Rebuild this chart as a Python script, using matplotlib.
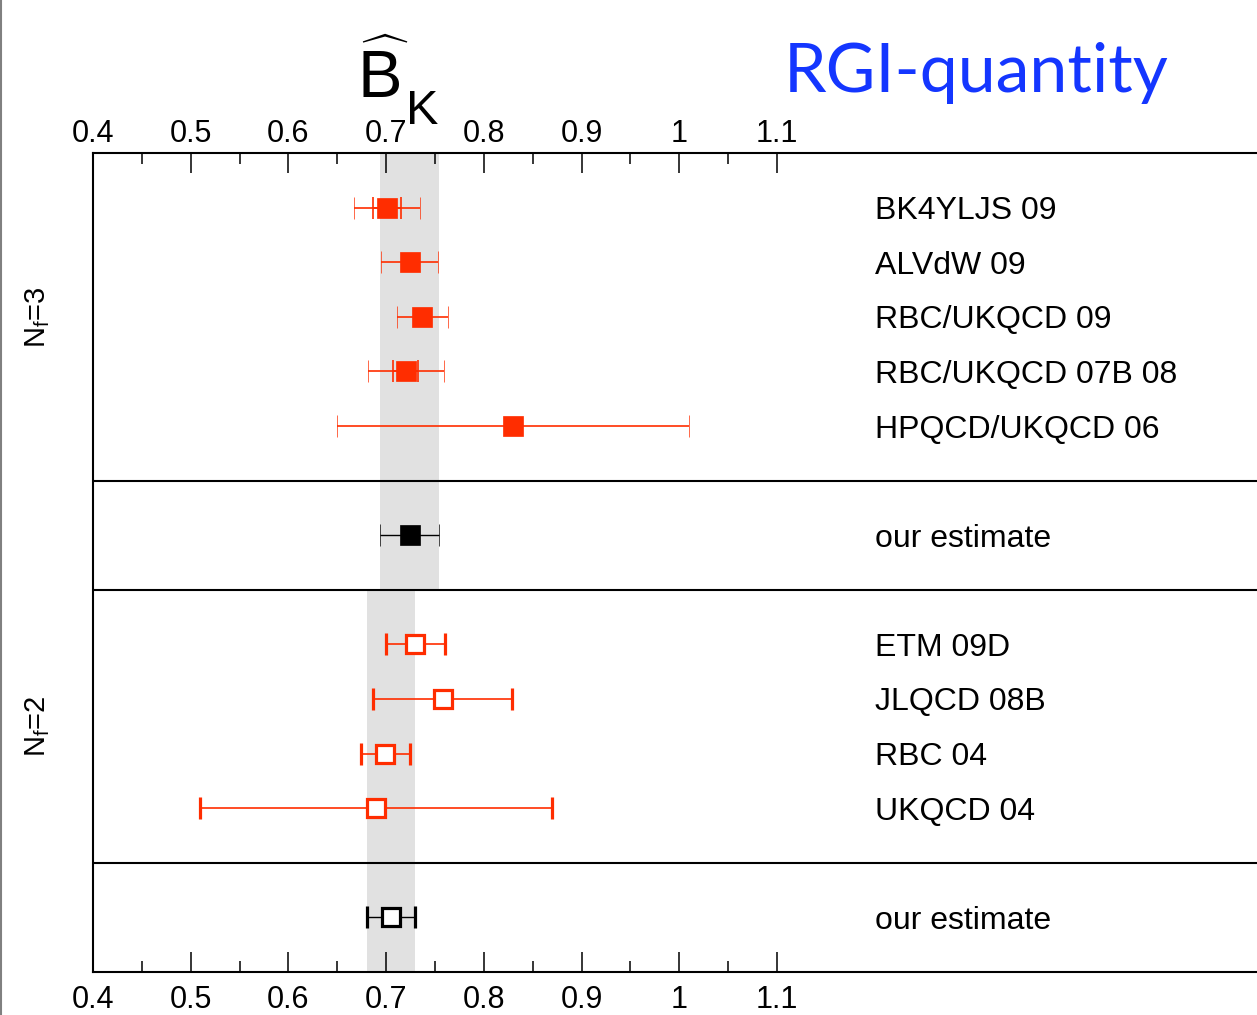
import numpy as np
import matplotlib
matplotlib.use("Agg")
from matplotlib import pyplot as plt
from matplotlib.transforms import blended_transform_factory, offset_copy
from matplotlib.lines import Line2D

plt.rcParams['font.family'] = ['Liberation Sans', 'DejaVu Sans']
plt.rcParams['mathtext.fontset'] = 'custom'
plt.rcParams['mathtext.rm'] = 'Liberation Sans'
plt.rcParams['mathtext.it'] = 'Liberation Sans'

RED = '#ff2d00'

# Nf=3 results
nf3_names = ['BK4YLJS 09', 'ALVdW 09', 'RBC/UKQCD 09', 'RBC/UKQCD 07B 08', 'HPQCD/UKQCD 06']
nf3_val = [0.701, 0.724, 0.737, 0.720, 0.830]
nf3_err = [0.034, 0.029, 0.026, 0.039, 0.180]
nf3_stat = [0.014, None, None, 0.013, None]
nf3_est, nf3_est_err = 0.724, 0.030

# Nf=2 results
nf2_names = ['ETM 09D', 'JLQCD 08B', 'RBC 04', 'UKQCD 04']
nf2_val = [0.730, 0.758, 0.699, 0.690]
nf2_err = [0.030, 0.071, 0.025, 0.180]
nf2_est, nf2_est_err = 0.705, 0.025

fig = plt.figure(figsize=(12.57, 10.15), dpi=100)
ax = fig.add_axes([93/1257, 1 - 972/1015, 1164/1257, 819/1015])
ax.set_xlim(0.4, 0.4 + 1164/977)
ax.set_ylim(15, 0)

# row layout
y3 = np.arange(1, len(nf3_names) + 1)
sep1 = len(nf3_names) + 1
y3e = sep1 + 1
sep2 = y3e + 1
y2 = np.arange(sep2 + 1, sep2 + 1 + len(nf2_names))
sep3 = y2[-1] + 1
y2e = sep3 + 1

# bands
ax.fill_betweenx([0, sep2], nf3_est - nf3_est_err, nf3_est + nf3_est_err,
                 color='#e1e1e1', lw=0, zorder=0)
ax.fill_betweenx([sep2, 15], nf2_est - nf2_est_err, nf2_est + nf2_est_err,
                 color='#e1e1e1', lw=0, zorder=0)

for s in [sep1, sep2, sep3]:
    ax.axhline(s, color='black', lw=1.5, zorder=1)

cap = dict(elinewidth=1.2, capsize=7.9, capthick=1.2)
lab = dict(fontsize=23, va='center_baseline', ha='left')

for y, v, e, st, name in zip(y3, nf3_val, nf3_err, nf3_stat, nf3_names):
    ax.errorbar(v, y, xerr=e, color=RED, marker='s', ms=15, mew=0.5, mec=RED,
                ls='none', zorder=3, **cap)
    if st is not None:
        ax.errorbar(v, y, xerr=st, color=RED, fmt='none', zorder=3, **cap)
    ax.text(1.2, y, name, **lab)

ax.errorbar(nf3_est, y3e, xerr=nf3_est_err, color='black', marker='s', ms=15, mew=0.5,
            mec='black', ls='none', zorder=3, elinewidth=1.0, capsize=7.9, capthick=1.0)
ax.text(1.2, y3e, 'our estimate', **lab)

for y, v, e, name in zip(y2, nf2_val, nf2_err, nf2_names):
    ax.errorbar(v, y, xerr=e, color=RED, marker='s', ms=13.5, mew=2.3, mfc='white',
                mec=RED, ls='none', zorder=3, **cap)
    ax.text(1.2, y, name, **lab)

ax.errorbar(nf2_est, y2e, xerr=nf2_est_err, color='black', marker='s', ms=13.5, mew=2.3,
            mfc='white', mec='black', elinewidth=1.0, capsize=7.9, capthick=1.0,
            ls='none', zorder=3)
ax.text(1.2, y2e, 'our estimate', **lab)

# axes styling
ax.set_xticks(np.round(np.arange(0.4, 1.11, 0.1), 2))
ax.set_xticklabels(['0.4', '0.5', '0.6', '0.7', '0.8', '0.9', '1', '1.1'])
ax.set_xticks(np.round(np.arange(0.45, 1.06, 0.1), 2), minor=True)
ax.set_yticks([])
ax.tick_params(axis='x', which='both', direction='in', top=True, bottom=True,
               labeltop=True, labelbottom=True, labelsize=22, pad=9, width=1.1)
ax.tick_params(axis='x', which='major', length=14.5)
ax.tick_params(axis='x', which='minor', length=8)
for t in ax.xaxis.get_major_ticks():
    t.label2.set_transform(offset_copy(t.label2.get_transform(), fig=fig, y=-6, units='points'))
ax.spines['right'].set_visible(False)
for sp in ['top', 'bottom', 'left']:
    ax.spines[sp].set_linewidth(1.5)

# Nf labels
tr = blended_transform_factory(fig.transFigure, ax.transData)
ax.text(38/1257, y3.mean(), r'$\mathrm{N_f}$=3', rotation=90, fontsize=21,
        ha='center', va='center', transform=tr)
ax.text(38/1257, y2.mean(), r'$\mathrm{N_f}$=2', rotation=90, fontsize=21,
        ha='center', va='center', transform=tr)

# titles
fig.text(357/1257, 1 - 98/1015, r'$\widehat{\mathrm{B}}$', fontsize=48,
         ha='left', va='baseline')
fig.text(406/1257, 1 - 124/1015, 'K', fontsize=35, ha='left', va='baseline')
fig.text(976/1257, 1 - 92/1015, 'RGI-quantity', fontsize=49, color='#1436ff',
         family=['Lato', 'DejaVu Sans'], ha='center', va='baseline')

fig.add_artist(Line2D([0.001, 0.001], [0, 1], color='#808080', lw=1.5,
                      transform=fig.transFigure))

fig.savefig('out.png', dpi=100)
